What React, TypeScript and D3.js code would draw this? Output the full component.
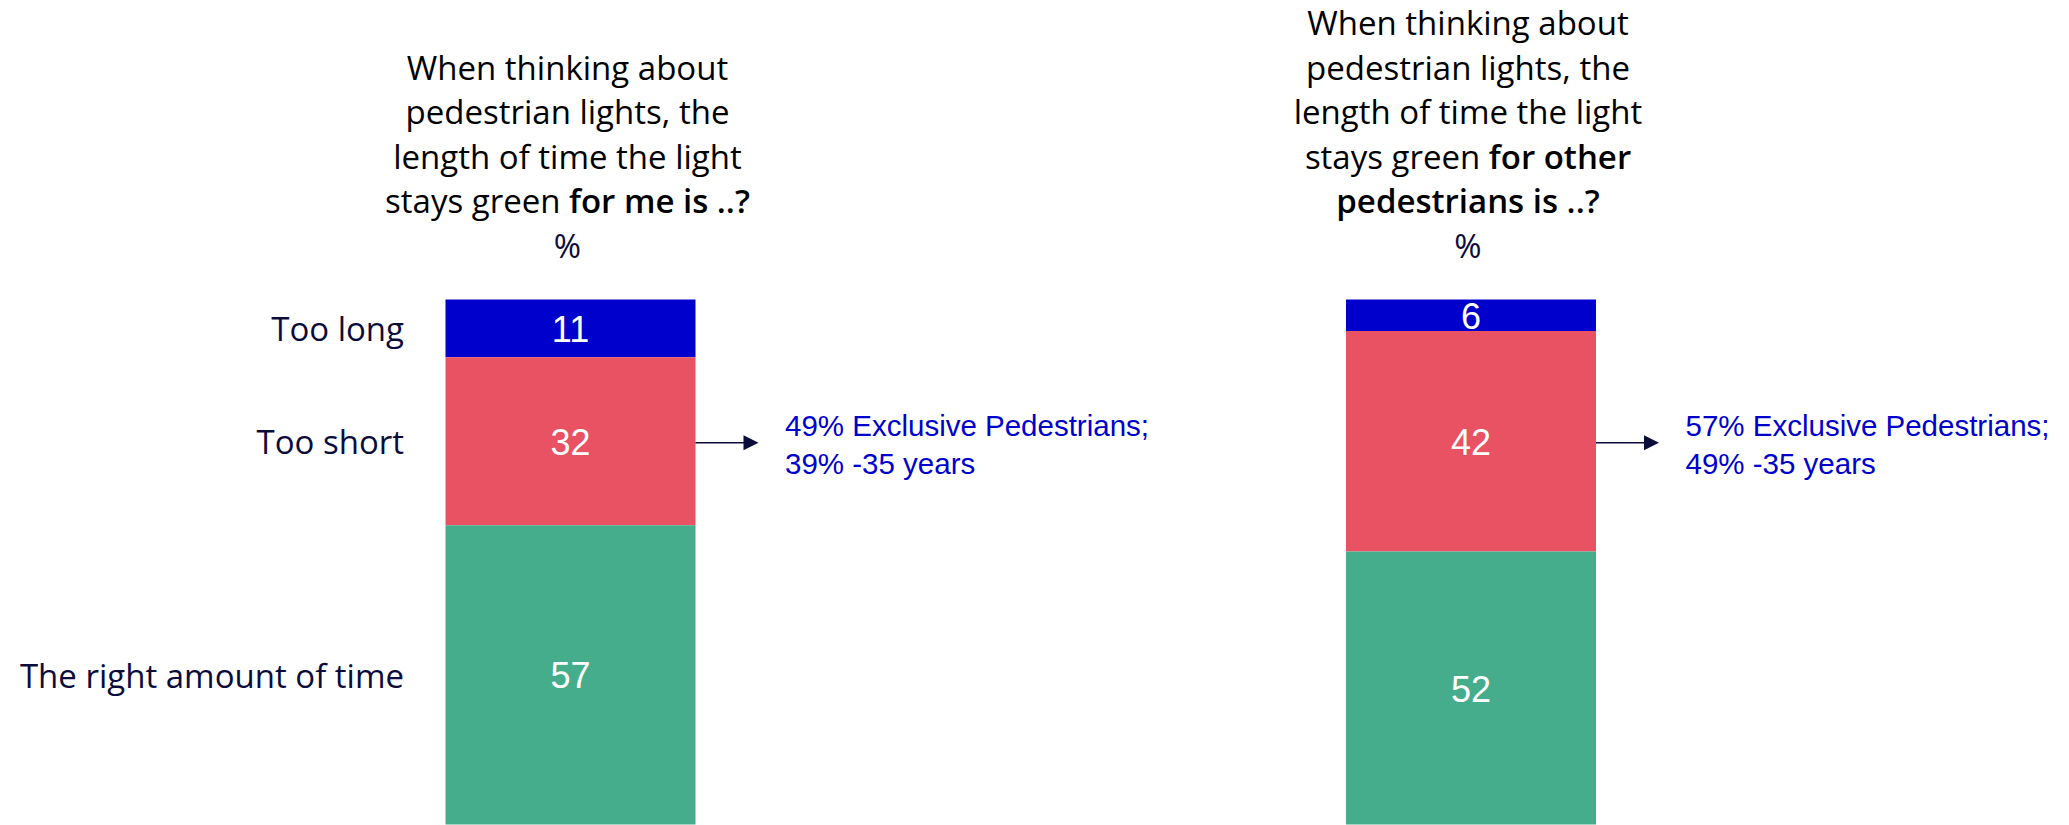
import React from "react";
import * as d3 from "d3";

const categories = ["Too long", "Too short", "The right amount of time"];
const questions = ["me", "others"];
const valuesMe = [11, 32, 57];
const valuesOthers = [6, 42, 52];
const colors = ["#0000CC", "#E85263", "#46AD8C"];
const titleMe = [
  [{ t: "When thinking about", b: false }],
  [{ t: "pedestrian lights, the", b: false }],
  [{ t: "length of time the light", b: false }],
  [{ t: "stays green ", b: false }, { t: "for me is ..?", b: true }],
];
const titleOthers = [
  [{ t: "When thinking about", b: false }],
  [{ t: "pedestrian lights, the", b: false }],
  [{ t: "length of time the light", b: false }],
  [{ t: "stays green ", b: false }, { t: "for other", b: true }],
  [{ t: "pedestrians is ..?", b: true }],
];
const notesMe = ["49% Exclusive Pedestrians;", "39% -35 years"];
const notesOthers = ["57% Exclusive Pedestrians;", "49% -35 years"];

const W = 2069;
const H = 825;
const NAVY = "#0c0c3c";
const TITLE_FONT = "'Open Sans', 'Noto Sans', sans-serif";
const ARIAL = "'Liberation Sans', Arial, sans-serif";

export default function App() {
  const y = d3.scaleLinear().domain([0, 100]).range([299.5, 824.5]);
  const x = d3.scalePoint<string>().domain(questions).range([570.5, 1471]);
  const barW = 250;

  const series = [valuesMe, valuesOthers];
  const titles = [titleMe, titleOthers];
  const notes = [notesMe, notesOthers];

  const stackSegs = (vals: number[]) => {
    let acc = 0;
    return vals.map((v, i) => {
      const s = { y0: acc, y1: acc + v, v, i };
      acc += v;
      return s;
    });
  };

  const lineH = 44.5;
  const pctBaseline = 257.5;

  return (
    <svg
      width={W}
      height={H}
      style={{ position: "absolute", left: 0, top: 0, display: "block", background: "#fff" }}
    >
      {questions.map((q, qi) => {
        const cx = x(q) as number;
        const segs = stackSegs(series[qi]);
        const tl = titles[qi];
        const firstBaseline = pctBaseline - lineH * tl.length;
        const red = segs[1];
        const redC = (y(red.y0) + y(red.y1)) / 2;
        const arrowY = redC + 1.5;
        const x0 = cx + barW / 2;
        const tip = x0 + 63;
        return (
          <g key={q}>
            {tl.map((line, li) => (
              <text
                key={li}
                x={cx - 3}
                y={firstBaseline + li * lineH}
                textAnchor="middle"
                fontFamily={TITLE_FONT}
                fontSize={33}
                fill="#000"
              >
                {line.map((p, pi) => (
                  <tspan key={pi} fontWeight={p.b ? 600 : 400}>
                    {p.t}
                  </tspan>
                ))}
              </text>
            ))}
            <text
              x={cx - 3}
              y={pctBaseline}
              textAnchor="middle"
              fontFamily={TITLE_FONT}
              fontSize={33}
              fill={NAVY}
            >
              %
            </text>
            {segs.map((s) => (
              <g key={s.i}>
                <rect
                  x={cx - barW / 2}
                  y={y(s.y0)}
                  width={barW}
                  height={y(s.y1) - y(s.y0)}
                  fill={colors[s.i]}
                />
                <text
                  x={cx}
                  y={(y(s.y0) + y(s.y1)) / 2 + 13.5}
                  textAnchor="middle"
                  fontFamily={ARIAL}
                  fontSize={36}
                  fill="#fff"
                >
                  {s.v}
                </text>
                {qi === 0 && (
                  <text
                    x={404}
                    y={(y(s.y0) + y(s.y1)) / 2 + 13}
                    textAnchor="end"
                    fontFamily={TITLE_FONT}
                    fontSize={33}
                    fill={NAVY}
                  >
                    {categories[s.i]}
                  </text>
                )}
              </g>
            ))}
            <line x1={x0} x2={tip - 14} y1={arrowY} y2={arrowY} stroke={NAVY} strokeWidth={1.6} />
            <path
              d={`M${tip - 15},${arrowY - 7.5} L${tip},${arrowY} L${tip - 15},${arrowY + 7.5} Z`}
              fill={NAVY}
            />
            {notes[qi].map((n, ni) => (
              <text
                key={ni}
                x={tip + 26.5}
                y={arrowY - 6.5 + ni * 37.3}
                fontFamily={ARIAL}
                fontSize={29.5}
                fill="#0000CC"
              >
                {n}
              </text>
            ))}
          </g>
        );
      })}
    </svg>
  );
}
